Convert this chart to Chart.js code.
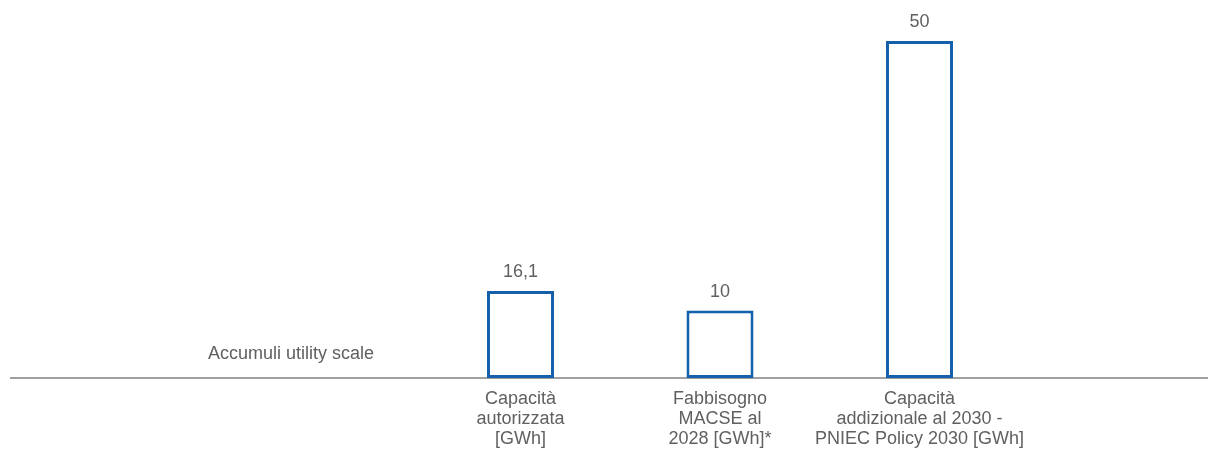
<!DOCTYPE html>
<html>
<head>
<meta charset="utf-8">
<script src="https://cdn.jsdelivr.net/npm/chart.js@4.4.1/dist/chart.umd.min.js"></script>
<style>
  html, body { margin: 0; padding: 0; background: #fff; overflow: hidden; }
</style>
</head>
<body>
<canvas id="chart" width="1209" height="456"></canvas>
<script>
const categories = [
  ["Capacità", "autorizzata", "[GWh]"],
  ["Fabbisogno", "MACSE al", "2028 [GWh]*"],
  ["Capacità", "addizionale al 2030 -", "PNIEC Policy 2030 [GWh]"]
];
// bar heights as drawn in the picture (first bar is drawn shorter than its label)
const barValues = [12.9, 10, 50];
const valueLabels = ["16,1", "10", "50"];
const seriesName = "Accumuli utility scale";

const textColor = "#606060";
const fontFamily = "'Liberation Sans', Arial, sans-serif";

const decorations = {
  id: "decorations",
  afterDatasetsDraw(chart) {
    const ctx = chart.ctx;
    const y0 = chart.scales.y.getPixelForValue(0);
    ctx.save();
    // value labels above bars
    ctx.font = "18px " + fontFamily;
    ctx.fillStyle = textColor;
    ctx.textAlign = "center";
    ctx.textBaseline = "middle";
    chart.getDatasetMeta(0).data.forEach((bar, i) => {
      ctx.fillText(valueLabels[i], bar.x, bar.y - 19);
    });
    // series name on the left
    ctx.textAlign = "left";
    ctx.fillText(seriesName, 208, y0 - 24);
    ctx.restore();
  },
  beforeDatasetsDraw(chart) {
    const ctx = chart.ctx;
    const y0 = chart.scales.y.getPixelForValue(0);
    ctx.save();
    ctx.strokeStyle = "#808080";
    ctx.lineWidth = 1.5;
    ctx.beginPath();
    ctx.moveTo(10, y0);
    ctx.lineTo(1208, y0);
    ctx.stroke();
    ctx.restore();
  }
};

new Chart(document.getElementById("chart"), {
  type: "bar",
  data: {
    labels: categories,
    datasets: [{
      label: seriesName,
      data: barValues,
      backgroundColor: "#ffffff",
      borderColor: "#1560ab",
      borderWidth: 3,
      borderSkipped: false,
      barPercentage: 0.336,
      categoryPercentage: 1
    }]
  },
  options: {
    responsive: false,
    animation: false,
    devicePixelRatio: 1,
    layout: { padding: { top: 41, left: 420.75, right: 189.75, bottom: 0 } },
    plugins: { legend: { display: false }, tooltip: { enabled: false } },
    scales: {
      y: { display: false, min: 0, max: 50 },
      x: {
        grid: { display: false, drawTicks: false },
        border: { display: false },
        afterFit(scale) { scale.height = 78; },
        ticks: {
          color: textColor,
          padding: 11,
          maxRotation: 0,
          autoSkip: false,
          font: { family: fontFamily, size: 18, lineHeight: 1.11 }
        }
      }
    }
  },
  plugins: [decorations]
});
</script>
</body>
</html>
